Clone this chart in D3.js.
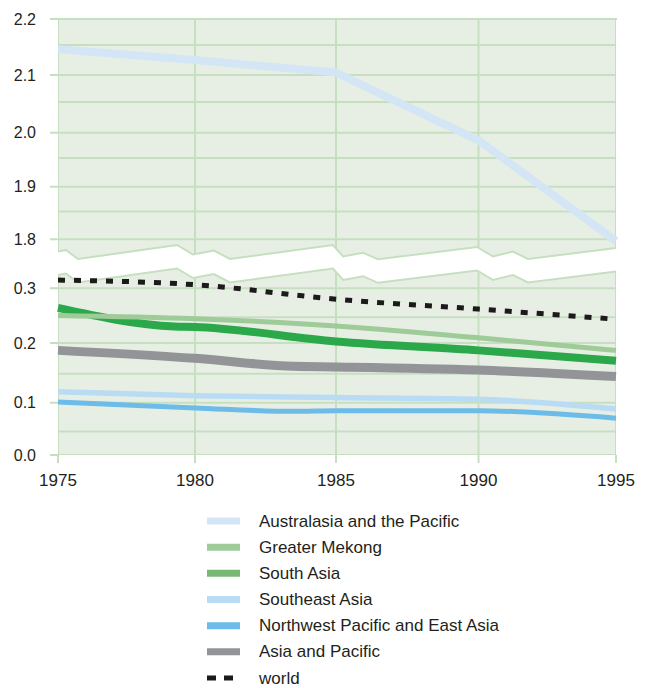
<!DOCTYPE html>
<html>
<head>
<meta charset="utf-8">
<script src="https://cdn.jsdelivr.net/npm/d3@7"></script>
<style>
  html, body { margin: 0; padding: 0; background: #ffffff; }
  svg text { font-family: "Liberation Sans", Arial, Helvetica, sans-serif; fill: #231f20; }
</style>
</head>
<body>
<svg id="chart" width="646" height="688"></svg>
<script>
// ---------------- data ----------------
const xTickYears = [1975, 1980, 1985, 1990, 1995];
const topTicks = [1.8, 1.9, 2.0, 2.1, 2.2];
const topMinor = [1.85, 1.95, 2.05, 2.15];
const bottomTicks = [0.0, 0.1, 0.2, 0.3];
const bottomMinor = [0.05, 0.15, 0.25];

const australasia   = [[1975, 2.143], [1980, 2.125], [1985, 2.104], [1990, 1.985], [1995, 1.797]];
const greaterMekong = [[1975, 0.253], [1980, 0.247], [1985, 0.233], [1990, 0.210], [1995, 0.188]];
const southAsia     = [[1975, 0.266], [1979.25, 0.232], [1980, 0.231], [1985, 0.203], [1990, 0.188], [1995, 0.171]];
const southeastAsia = [[1975, 0.119], [1980, 0.112], [1985, 0.109], [1990, 0.106], [1995, 0.089]];
const nwPacific     = [[1975, 0.101], [1980, 0.091], [1983.5, 0.085], [1985, 0.086], [1990, 0.086], [1995, 0.073]];
const asiaPacific   = [[1975, 0.188], [1980, 0.175], [1983.5, 0.162], [1985, 0.161], [1990, 0.156], [1995, 0.145]];
const world         = [[1975, 0.314], [1980, 0.306], [1985, 0.281], [1990, 0.264], [1995, 0.246]];

const seriesNames = ["Australasia and the Pacific", "Greater Mekong", "South Asia",
  "Southeast Asia", "Northwest Pacific and East Asia", "Asia and Pacific", "world"];

// ---------------- layout / style ----------------
const BG = "#e7efe4", GRID = "#c6dfc1";
const series = [
  { name: seriesNames[5], data: asiaPacific,   panel: "bottom", color: "#939497", width: 9 },
  { name: seriesNames[4], data: nwPacific,     panel: "bottom", color: "#6dbbe8", width: 5 },
  { name: seriesNames[3], data: southeastAsia, panel: "bottom", color: "#b9dbf3", width: 5.5 },
  { name: seriesNames[2], data: southAsia,     panel: "bottom", color: "#2aa84a", width: 8 },
  { name: seriesNames[1], data: greaterMekong, panel: "bottom", color: "#9ecb98", width: 5 },
  { name: seriesNames[0], data: australasia,   panel: "top",    color: "#d4e6f5", width: 8, straight: true },
  { name: seriesNames[6], data: world,         panel: "bottom", color: "#1c1a1b", width: 5, dash: "7,9" }
];
const legendStyle = {
  "Australasia and the Pacific": { color: "#d4e6f5" },
  "Greater Mekong": { color: "#9ecb98" },
  "South Asia": { color: "#78b973" },
  "Southeast Asia": { color: "#b9dbf3" },
  "Northwest Pacific and East Asia": { color: "#6dbbe8" },
  "Asia and Pacific": { color: "#939497" },
  "world": { color: "#1c1a1b", dash: "9,8", width: 5 }
};

const svg = d3.select("#chart");

const x = d3.scaleLinear().domain(xTickYears).range([58, 195, 336, 478.5, 616]);
const yTop = d3.scaleLinear()
  .domain([1.8, 1.85, 1.9, 1.95, 2.0, 2.05, 2.1, 2.15, 2.2])
  .range([239.3, 211.5, 186.7, 158, 132.7, 102, 75, 45, 19]);
const yBot = d3.scaleLinear()
  .domain([0, 0.05, 0.1, 0.15, 0.2, 0.25, 0.3])
  .range([455, 431.5, 402.7, 373.7, 343, 317.2, 288.2]);

// decorative axis-break zigzag: [year, pixel y] for top panel's lower edge
const breakPattern = [
  [1975, 251.5], [1975.29, 250], [1975.73, 259], [1979.34, 245], [1979.93, 254.5],
  [1980.67, 250.5], [1981.24, 259], [1984.89, 245], [1985.25, 256.5], [1985.95, 252.7],
  [1986.47, 259.3], [1989.95, 247], [1990.53, 256.5], [1991.25, 251.5], [1991.8, 259], [1995, 248]
];
const BREAK_GAP = 23.5;

const topEdge = breakPattern.map(d => [x(d[0]), d[1]]);
const botEdge = breakPattern.map(d => [x(d[0]), d[1] + BREAK_GAP]);

const topPoly = [[x(1975), yTop(2.2)], [x(1995), yTop(2.2)]].concat(topEdge.slice().reverse());
const botPoly = botEdge.concat([[x(1995), yBot(0)], [x(1975), yBot(0)]]);

const defs = svg.append("defs");
defs.append("clipPath").attr("id", "clipTop").append("polygon").attr("points", topPoly.map(p => p.join(",")).join(" "));
defs.append("clipPath").attr("id", "clipBot").append("polygon").attr("points", botPoly.map(p => p.join(",")).join(" "));

// panel fills
svg.append("polygon").attr("points", topPoly.map(p => p.join(",")).join(" ")).attr("fill", BG);
svg.append("polygon").attr("points", botPoly.map(p => p.join(",")).join(" ")).attr("fill", BG);

const grid = svg.append("g").attr("stroke", GRID).attr("stroke-width", 2).attr("fill", "none");

// horizontal gridlines
const gTopGrid = grid.append("g").attr("clip-path", "url(#clipTop)");
gTopGrid.selectAll("line").data(topTicks.concat(topMinor)).join("line")
  .attr("x1", x(1975)).attr("x2", x(1995)).attr("y1", d => yTop(d)).attr("y2", d => yTop(d));
const gBotGrid = grid.append("g").attr("clip-path", "url(#clipBot)");
gBotGrid.selectAll("line").data(bottomTicks.concat(bottomMinor)).join("line")
  .attr("x1", x(1975)).attr("x2", x(1995)).attr("y1", d => yBot(d)).attr("y2", d => yBot(d));

// vertical gridlines
gTopGrid.selectAll("line.v").data(xTickYears).join("line").attr("class", "v")
  .attr("x1", d => x(d)).attr("x2", d => x(d)).attr("y1", yTop(2.2) - 1).attr("y2", 270);
gBotGrid.selectAll("line.v").data(xTickYears).join("line").attr("class", "v")
  .attr("x1", d => x(d)).attr("x2", d => x(d)).attr("y1", 260).attr("y2", yBot(0) + 1);

// top border line + major ticks
grid.append("line").attr("x1", 50).attr("x2", x(1995) + 1).attr("y1", yTop(2.2)).attr("y2", yTop(2.2));
grid.selectAll("line.yt").data(topTicks).join("line").attr("class", "yt")
  .attr("x1", 50).attr("x2", x(1975)).attr("y1", d => yTop(d)).attr("y2", d => yTop(d));
grid.selectAll("line.yb").data(bottomTicks).join("line").attr("class", "yb")
  .attr("x1", 50).attr("x2", x(1975)).attr("y1", d => yBot(d)).attr("y2", d => yBot(d));
grid.selectAll("line.xt").data(xTickYears).join("line").attr("class", "xt")
  .attr("x1", d => x(d)).attr("x2", d => x(d)).attr("y1", yBot(0)).attr("y2", yBot(0) + 8);

// zigzag break edges
grid.append("path").attr("d", d3.line()(topEdge));
grid.append("path").attr("d", d3.line()(botEdge));

// tick labels
const yLabelFmt = d3.format(".1f");
svg.append("g").selectAll("text").data(topTicks).join("text")
  .attr("x", 36).attr("y", d => yTop(d)).attr("dy", "0.35em").attr("text-anchor", "end")
  .attr("font-size", 16).text(d => yLabelFmt(d));
svg.append("g").selectAll("text").data(bottomTicks).join("text")
  .attr("x", 36).attr("y", d => yBot(d)).attr("dy", "0.35em").attr("text-anchor", "end")
  .attr("font-size", 16).text(d => yLabelFmt(d));
svg.append("g").selectAll("text").data(xTickYears).join("text")
  .attr("x", d => x(d)).attr("y", 486).attr("text-anchor", "middle")
  .attr("font-size", 17).text(d => d);

// series lines
const lineGen = (scale, straight) => d3.line().x(d => x(d[0])).y(d => scale(d[1]))
  .curve(straight ? d3.curveLinear : d3.curveMonotoneX);
svg.append("g").selectAll("path").data(series).join("path")
  .attr("d", s => lineGen(s.panel === "top" ? yTop : yBot, s.straight)(s.data))
  .attr("fill", "none")
  .attr("stroke", s => s.color)
  .attr("stroke-width", s => s.width)
  .attr("stroke-dasharray", s => s.dash || null)
  .attr("stroke-linecap", "butt")
  .attr("stroke-linejoin", "round");

// legend
const legendY = d3.scaleLinear().domain([0, seriesNames.length - 1]).range([521, 678]);
const leg = svg.append("g");
const items = leg.selectAll("g").data(seriesNames).join("g")
  .attr("transform", (d, i) => `translate(0,${legendY(i)})`);
items.append("line")
  .attr("x1", 207).attr("x2", 240).attr("y1", 0).attr("y2", 0)
  .attr("stroke", d => legendStyle[d].color)
  .attr("stroke-width", d => legendStyle[d].width || 7)
  .attr("stroke-dasharray", d => legendStyle[d].dash || null);
items.append("text")
  .attr("x", 259).attr("y", 0).attr("dy", "0.33em")
  .attr("font-size", 17).text(d => d);
</script>
</body>
</html>
